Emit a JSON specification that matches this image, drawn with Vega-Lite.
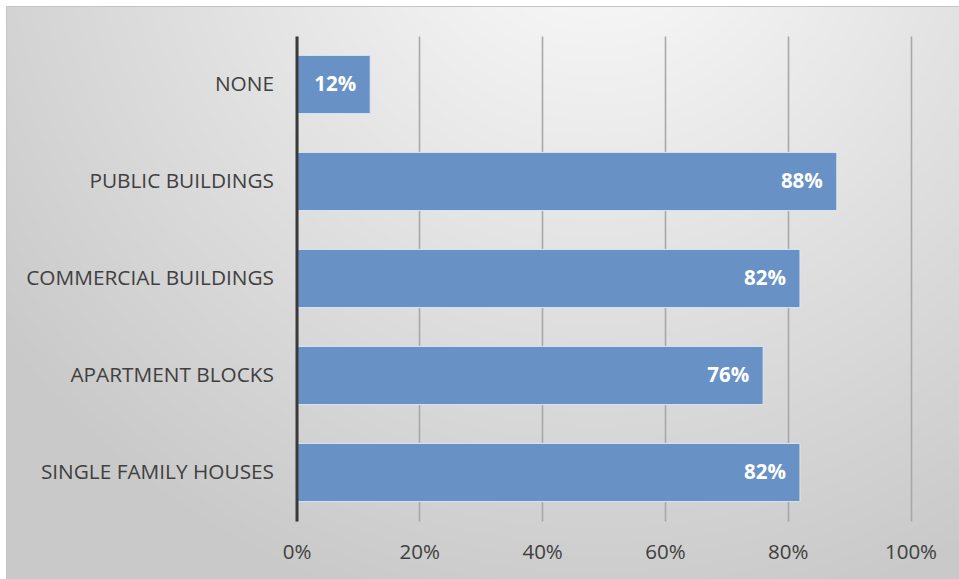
{
  "$schema": "https://vega.github.io/schema/vega-lite/v6.json",
  "autosize": {"type": "none"},
  "padding": {"left": 6, "top": 6, "right": 0, "bottom": 0},
  "width": 953,
  "height": 573,
  "background": "#ffffff",
  "config": {
    "view": {
      "fill": {
        "gradient": "radial",
        "x1": 0.62, "y1": 0.08, "r1": 0,
        "x2": 0.62, "y2": 0.08, "r2": 0.78,
        "stops": [
          {"offset": 0, "color": "#fcfcfc"},
          {"offset": 0.45, "color": "#e5e5e5"},
          {"offset": 1, "color": "#c9c9c9"}
        ]
      },
      "stroke": "#c4c4c4",
      "strokeWidth": 1
    },
    "font": "Open Sans"
  },
  "data": {
    "values": [
      {"category": "NONE", "share": 0.12},
      {"category": "PUBLIC BUILDINGS", "share": 0.88},
      {"category": "COMMERCIAL BUILDINGS", "share": 0.82},
      {"category": "APARTMENT BLOCKS", "share": 0.76},
      {"category": "SINGLE FAMILY HOUSES", "share": 0.82}
    ]
  },
  "encoding": {
    "y": {
      "field": "category",
      "type": "nominal",
      "sort": null,
      "scale": {"range": [30, 515], "paddingInner": 0.4, "paddingOuter": 0.2},
      "axis": {
        "title": null,
        "orient": "left",
        "offset": -290.5,
        "zindex": 2,
        "domain": true,
        "domainColor": "#3a3a3a",
        "domainWidth": 3,
        "ticks": false,
        "grid": false,
        "labelPadding": 23,
        "labelFont": "Open Sans",
        "labelFontSize": 20.8,
        "labelColor": "#404040",
        "labelLimit": 400
      }
    },
    "x": {
      "field": "share",
      "type": "quantitative",
      "scale": {"domain": [0, 1], "range": [290.5, 904.5], "nice": false},
      "axis": {
        "title": null,
        "orient": "top",
        "offset": -515,
        "zindex": 0,
        "values": [0, 0.2, 0.4, 0.6, 0.8, 1],
        "format": ".0%",
        "domain": false,
        "ticks": false,
        "grid": true,
        "gridColor": "#a8a8a8",
        "gridWidth": 1.6,
        "labelPadding": -21,
        "labelBaseline": "top",
        "labelFont": "Open Sans",
        "labelFontSize": 20.5,
        "labelColor": "#404040",
        "labelFlush": false
      }
    }
  },
  "layer": [
    {
      "mark": {
        "type": "bar",
        "color": "#6891c6",
        "stroke": "#dce6f2",
        "strokeWidth": 1
      }
    },
    {
      "mark": {
        "type": "text",
        "align": "right",
        "baseline": "middle",
        "dx": -14,
        "font": "Open Sans",
        "fontSize": 20.5,
        "fontWeight": "bold",
        "color": "#ffffff"
      },
      "encoding": {
        "text": {"field": "share", "type": "quantitative", "format": ".0%"}
      }
    }
  ]
}
